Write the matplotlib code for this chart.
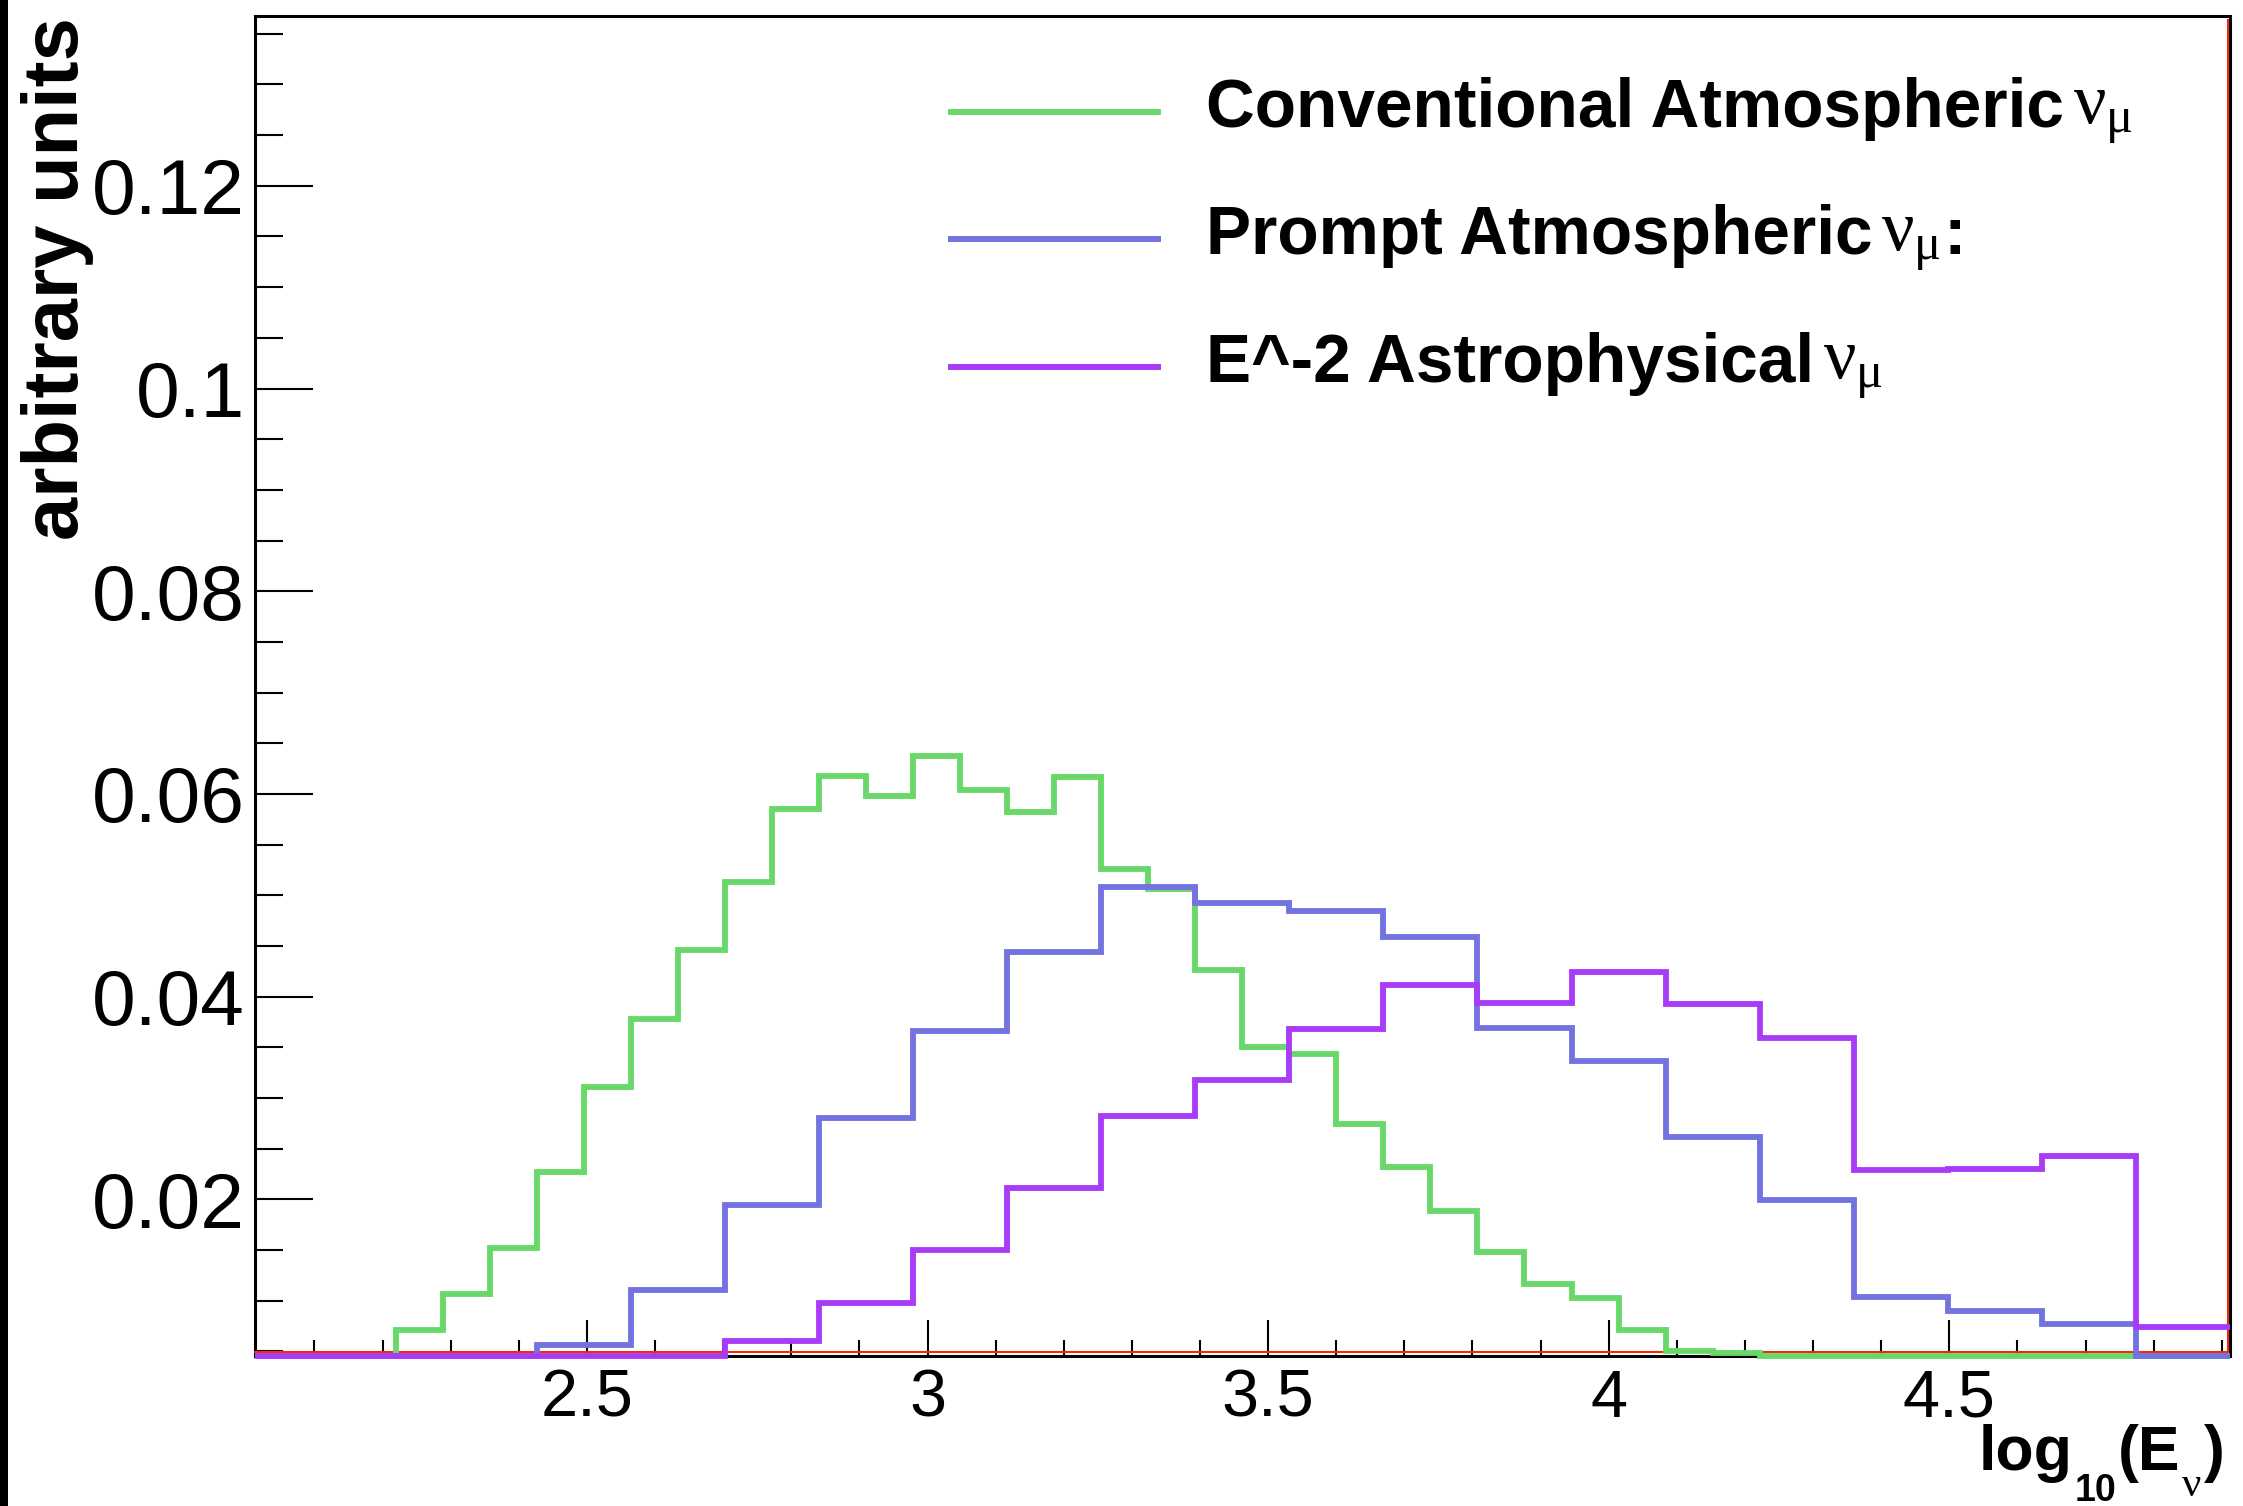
import numpy as np
import matplotlib
matplotlib.use("Agg")
import matplotlib.pyplot as plt
from matplotlib.lines import Line2D
from matplotlib.patches import Rectangle
from matplotlib.ticker import FixedLocator, MultipleLocator, FuncFormatter

# ---- data -------------------------------------------------------------
# histogram range in log10(E_nu)
LOG_E_LO = 2.012
LOG_E_HI = 4.912

# conventional atmospheric nu_mu (42 bins)
conventional = [
    0.0, 0.0, 0.0, 0.0071, 0.0107, 0.0152, 0.0227, 0.0311, 0.0378, 0.0446,
    0.0513, 0.0585, 0.0618, 0.0598, 0.0637, 0.0604, 0.0582, 0.0617, 0.0526, 0.0506,
    0.0426, 0.0350, 0.0343, 0.0274, 0.0232, 0.0189, 0.0148, 0.0117, 0.0103, 0.0071,
    0.0050, 0.0048, 0.0, 0.0, 0.0, 0.0, 0.0, 0.0, 0.0, 0.0,
    0.0, 0.0,
]
# prompt atmospheric nu_mu (21 bins)
prompt = [
    0.0, 0.0, 0.0, 0.0056, 0.0111, 0.0194, 0.0280, 0.0366, 0.0444, 0.0508,
    0.0492, 0.0485, 0.0459, 0.0369, 0.0337, 0.0262, 0.0199, 0.0104, 0.0090, 0.0077,
    0.0,
]
# E^-2 astrophysical nu_mu (21 bins)
astro = [
    0.0, 0.0, 0.0, 0.0, 0.0, 0.0060, 0.0098, 0.0150, 0.0211, 0.0282,
    0.0318, 0.0368, 0.0412, 0.0394, 0.0424, 0.0393, 0.0359, 0.0229, 0.0230, 0.0243,
    0.0074,
]

series_labels = ["Conventional Atmospheric", "Prompt Atmospheric", "E^-2 Astrophysical"]
label_tails = ["", ":", ""]
series_colors = ["#68d868", "#7272e0", "#a83cf6"]

x_major = [2.5, 3.0, 3.5, 4.0, 4.5]
y_major = [0.02, 0.04, 0.06, 0.08, 0.10, 0.12]
Y_LO, Y_HI = 0.0046, 0.1368

# ---- style ------------------------------------------------------------
plt.rcParams["font.family"] = ["Liberation Sans", "DejaVu Sans"]
plt.rcParams["mathtext.fontset"] = "custom"
plt.rcParams["mathtext.rm"] = "Liberation Serif"
plt.rcParams["mathtext.it"] = "Liberation Serif"
plt.rcParams["mathtext.bf"] = "Liberation Sans:bold"

W, H, DPI = 2243, 1506, 100
fig = plt.figure(figsize=(W / DPI, H / DPI), dpi=DPI)
fig.patch.set_facecolor("white")


def fx(px):
    return px / W


def fy(py):
    return 1 - py / H


AX_L, AX_R, AX_T, AX_B = 254.5, 2230.0, 15.5, 1355.5
ax = fig.add_axes([fx(AX_L), fy(AX_B), (AX_R - AX_L) / W, (AX_B - AX_T) / H])

# dark strip along the left edge of the canvas
fig.add_artist(Rectangle((0, 0), fx(8.3), 1, transform=fig.transFigure,
                         facecolor="black", edgecolor="none"))

# ---- histograms -------------------------------------------------------
for vals, color in zip([conventional, prompt, astro], series_colors):
    vals = np.asarray(vals, dtype=float)
    edges = np.linspace(LOG_E_LO, LOG_E_HI, len(vals) + 1)
    # empty bins sit on the frame floor
    ax.stairs(np.maximum(vals, Y_LO), edges, baseline=None, color=color,
              lw=4.2, clip_on=False, zorder=3)

# thin red frame trace along bottom and right edge
ax_w_px, ax_h_px = AX_R - AX_L, AX_B - AX_T
ax.add_line(Line2D([0, 1 - 2.5 / ax_w_px, 1 - 2.5 / ax_w_px],
                   [3.5 / ax_h_px, 3.5 / ax_h_px, 1 - 4.5 / ax_h_px],
                   transform=ax.transAxes, color="#f02a0a", lw=1.5,
                   clip_on=False, zorder=2.6))

ax.set_xlim(LOG_E_LO, LOG_E_HI)
ax.set_ylim(Y_LO, Y_HI)

# ---- axes -------------------------------------------------------------
for sp in ax.spines.values():
    sp.set_linewidth(2.2)
    sp.set_color("black")

fmt = FuncFormatter(lambda v, p: f"{v:g}")
ax.xaxis.set_major_locator(FixedLocator(x_major))
ax.xaxis.set_minor_locator(MultipleLocator(0.1))
ax.yaxis.set_major_locator(FixedLocator(y_major))
ax.yaxis.set_minor_locator(MultipleLocator(0.005))
ax.xaxis.set_major_formatter(fmt)
ax.yaxis.set_major_formatter(fmt)

ax.tick_params(axis="x", which="major", direction="in", length=26, width=1.5,
               labelsize=48, pad=9.5, top=False)
ax.tick_params(axis="x", which="minor", direction="in", length=11.3, width=1.5,
               top=False)
ax.tick_params(axis="y", which="major", direction="in", length=41.5, width=1.5,
               labelsize=56.5, pad=7, right=False)
ax.tick_params(axis="y", which="minor", direction="in", length=20.4, width=1.5,
               right=False)

# y title
fig.text(fx(78), fy(17), "arbitrary units", rotation=90, rotation_mode="anchor",
         ha="right", va="baseline", fontsize=56, fontweight="bold")


def chain(prev, text, base_py, dx, dy, **kw):
    """Place a text piece right after `prev`, shifted by (dx, dy) points."""
    return ax.annotate(text, xy=(1, fy(base_py)), xycoords=(prev, "figure fraction"),
                       xytext=(dx, dy), textcoords="offset points",
                       ha="left", va="baseline", annotation_clip=False, **kw)


# x title: log10(E_nu)
XT_BASE = 1470
t_log = fig.text(fx(1979), fy(XT_BASE), "log", fontsize=45, fontweight="bold",
                 ha="left", va="baseline")
t_10 = chain(t_log, "10", XT_BASE, 1, -22, fontsize=27, fontweight="bold")
t_e = chain(t_10, "(E", XT_BASE, 1.5, 0, fontsize=45, fontweight="bold")
t_nu_x = chain(t_e, "\u03bd", XT_BASE, 1, -19, fontsize=31,
               fontfamily="Liberation Serif")
chain(t_nu_x, ")", XT_BASE, 1.5, 0, fontsize=45, fontweight="bold")

# ---- legend -----------------------------------------------------------
text_base = [127, 254, 382]
key_y = [111.7, 239.3, 367.0]
for label, tail, color, base, ky in zip(series_labels, label_tails, series_colors,
                                        text_base, key_y):
    fig.add_artist(Line2D([fx(948), fx(1161)], [fy(ky), fy(ky)],
                          transform=fig.transFigure, color=color, lw=4.3,
                          solid_capstyle="butt"))
    t_main = fig.text(fx(1206.5), fy(base), label, fontsize=48.7,
                      fontweight="bold", ha="left", va="baseline")
    t_nu = chain(t_main, r"$\nu_{\mu}$", base, 6, 2, fontsize=52)
    if tail:
        chain(t_nu, tail, base, 1.5, 0, fontsize=48.7, fontweight="bold")

fig.savefig("out.png", dpi=DPI)
